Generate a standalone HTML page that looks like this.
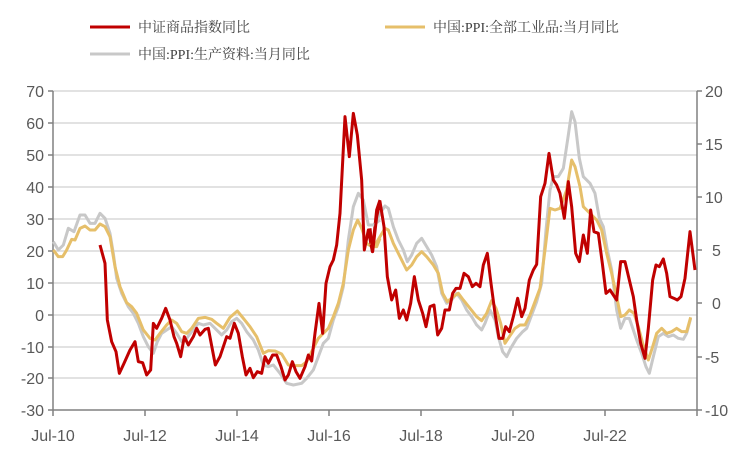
<!DOCTYPE html>
<html><head><meta charset="utf-8"><style>
html,body{margin:0;padding:0;background:#fff;}
svg{display:block;font-family:"Liberation Sans","Noto Sans CJK SC",sans-serif;}
</style></head><body>
<svg width="750" height="458" viewBox="0 0 750 458">
<g stroke="#d9d9d9" stroke-width="1.5">
<line x1="53" x2="697" y1="91" y2="91"/><line x1="53" x2="697" y1="123" y2="123"/><line x1="53" x2="697" y1="155" y2="155"/><line x1="53" x2="697" y1="187" y2="187"/><line x1="53" x2="697" y1="219" y2="219"/><line x1="53" x2="697" y1="251" y2="251"/><line x1="53" x2="697" y1="283" y2="283"/><line x1="53" x2="697" y1="315" y2="315"/><line x1="53" x2="697" y1="347" y2="347"/><line x1="53" x2="697" y1="378" y2="378"/>
</g>
<g stroke="#808080" stroke-width="1.5" fill="none">
<line x1="53" y1="91" x2="53" y2="410"/><line x1="697" y1="91" x2="697" y2="410"/><line x1="53" y1="410" x2="697" y2="410"/>
<path d="M48 91h5M48 123h5M48 155h5M48 187h5M48 219h5M48 251h5M48 283h5M48 315h5M48 347h5M48 378h5M48 410h5"/>
<path d="M697 91h5M697 144h5M697 197h5M697 250h5M697 303h5M697 357h5M697 410h5"/>
<path d="M53 410v6M145 410v6M237 410v6M329 410v6M421 410v6M513 410v6M605 410v6M697 410v6"/>
</g>
<g fill="#595959" font-size="16" text-anchor="end">
<text x="44" y="97">70</text><text x="44" y="129">60</text><text x="44" y="161">50</text><text x="44" y="193">40</text><text x="44" y="225">30</text><text x="44" y="257">20</text><text x="44" y="289">10</text><text x="44" y="321">0</text><text x="44" y="353">-10</text><text x="44" y="384">-20</text><text x="44" y="416">-30</text>
</g>
<g fill="#595959" font-size="16" text-anchor="start">
<text x="705" y="97">20</text><text x="705" y="150">15</text><text x="705" y="203">10</text><text x="712" y="256">5</text><text x="712" y="309">0</text><text x="705" y="363">-5</text><text x="705" y="416">-10</text>
</g>
<g fill="#595959" font-size="16" text-anchor="middle">
<text x="53" y="441">Jul-10</text><text x="145" y="441">Jul-12</text><text x="237" y="441">Jul-14</text><text x="329" y="441">Jul-16</text><text x="421" y="441">Jul-18</text><text x="513" y="441">Jul-20</text><text x="605" y="441">Jul-22</text>
</g>
<g fill="none" stroke-width="9" stroke-linejoin="round" transform="translate(0,80) scale(0.33333)">
<polyline stroke="#c8c8c8" points="160,485 175,510 190,495 205,445 222,455 240,405 255,405 270,430 285,430 300,400 315,415 330,460 340,520 350,595 365,640 385,680 400,700 415,730 430,770 445,800 460,820 472,785 485,760 500,750 515,740 530,760 545,785 560,775 575,755 595,730 610,735 630,730 645,745 665,765 680,750 695,725 710,715 725,730 740,755 760,780 775,810 790,855 805,860 820,855 840,880 860,910 880,915 905,910 920,895 940,870 955,830 970,790 985,775 1000,720 1015,680 1030,620 1045,480 1060,380 1075,340 1090,360 1105,435 1120,435 1140,420"/>
<polyline stroke="#e6bf6a" points="160,510 175,530 188,530 200,510 215,478 225,480 240,445 255,438 270,450 285,450 300,432 315,440 330,470 345,560 360,620 380,668 395,680 410,700 430,750 450,775 465,780 480,760 500,735 515,720 530,730 545,755 560,760 575,745 595,715 615,712 635,718 650,730 670,745 690,712 712,693 730,715 750,740 770,770 790,820 805,812 825,813 845,822 865,855 885,857 905,857 920,845 940,805 955,775 970,760 985,745 1000,710 1015,670 1030,610 1045,510 1060,450 1073,420 1085,445 1100,490 1115,500 1130,500 1140,475"/>
<polyline stroke="#c00000" points="300,495 315,550 322,720 335,785 348,815 358,880 372,850 390,810 405,785 415,845 428,848 440,885 452,870 460,730 470,745 485,715 497,685 510,720 522,770 530,790 542,830 553,770 565,795 580,770 590,745 600,765 615,748 625,745 646,855 660,830 680,770 690,775 703,730 715,760 727,830 738,885 750,865 760,893 772,875 785,880 795,830 805,850 818,825 830,825 843,860 855,900 865,885 877,845 888,875 900,895 915,860 925,825 935,843 945,760 957,670 968,760 978,610 990,560 1000,540 1010,495 1020,400 1035,110 1048,230 1060,100 1072,165 1085,300 1093,510 1105,450 1117,515 1130,390 1140,360"/>
</g>
<g fill="none" stroke-width="9" stroke-linejoin="round" transform="translate(370,80) scale(0.33333)">
<polyline stroke="#c8c8c8" points="0,435 15,435 30,400 45,378 55,385 70,440 85,480 100,510 112,545 125,525 140,490 155,475 170,500 185,525 200,560 215,640 230,670 245,660 260,640 275,660 290,690 305,710 320,735 335,750 345,730 360,690 375,720 385,770 398,815 410,830 422,805 440,775 458,755 470,745 485,705 500,665 515,610 528,450 540,330 550,290 565,290 580,265 595,165 605,95 615,125 628,235 640,290 660,310 675,340 688,415 700,440 712,510 725,570 740,690 752,745 765,715 778,715 790,750 800,780 815,820 828,860 838,880 850,830 865,770 880,760 895,770 910,765 925,775 940,778 950,760 962,715"/>
<polyline stroke="#e6bf6a" points="0,490 15,495 30,470 45,445 55,450 70,490 90,530 110,570 125,555 140,530 155,515 170,530 190,555 205,580 218,640 232,665 250,650 265,640 280,660 300,685 320,710 335,722 350,700 365,662 378,685 392,730 405,790 418,770 435,745 450,735 465,735 480,705 495,665 510,625 525,510 540,385 555,390 570,385 590,330 605,240 615,260 630,320 640,380 660,400 680,420 695,450 710,520 725,580 740,650 752,710 765,705 778,690 792,700 805,740 818,790 835,840 848,800 860,760 875,745 890,760 905,755 920,745 935,755 950,755 962,712"/>
<polyline stroke="#c00000" points="0,445 8,515 20,410 30,365 42,440 52,590 65,660 77,630 88,715 100,690 110,720 122,670 133,590 145,660 158,700 168,740 180,680 192,675 203,765 215,745 225,690 238,690 248,640 258,625 270,625 282,580 295,590 307,620 318,610 330,620 340,555 352,520 363,610 375,700 387,775 398,775 407,740 418,755 430,710 443,655 455,710 465,685 478,600 490,570 500,553 512,350 525,310 537,220 550,300 560,315 570,340 583,415 595,305 605,380 617,520 628,545 640,465 652,520 662,390 672,455 685,460 697,550 708,640 720,630 740,660 752,545 765,545 778,600 790,650 800,720 812,790 825,835 835,745 848,600 858,555 868,560 880,537 890,580 900,650 912,655 922,660 933,650 945,595 960,455 975,570"/>
</g>
<g stroke-width="3">
<line x1="90" y1="27" x2="130" y2="27" stroke="#c00000"/>
<line x1="385" y1="27" x2="425" y2="27" stroke="#e6bf6a"/>
<line x1="90" y1="54" x2="130" y2="54" stroke="#c8c8c8"/>
</g>
<g fill="#404040" font-size="14" font-family="'Liberation Serif','Noto Serif CJK SC',serif">
<text x="138" y="32">中证商品指数同比</text>
<text x="433" y="32">中国:PPI:全部工业品:当月同比</text>
<text x="138" y="59">中国:PPI:生产资料:当月同比</text>
</g>
</svg>
</body></html>
